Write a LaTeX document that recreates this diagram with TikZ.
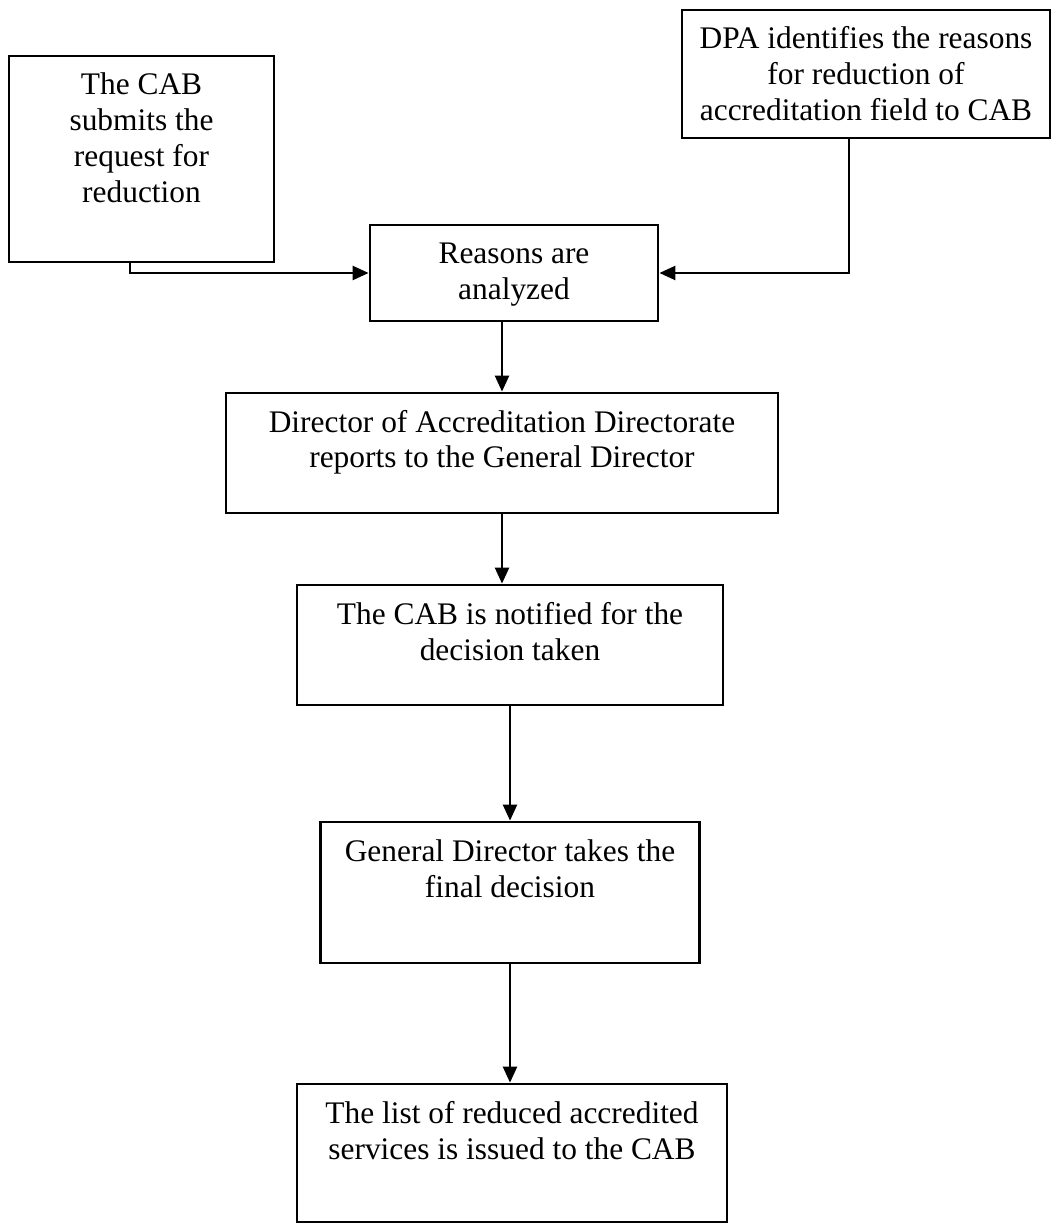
\documentclass[tikz,border=0pt]{standalone}
\usepackage{fontspec}
\setmainfont{Liberation Serif}
\usepackage{tikz}
\usetikzlibrary{arrows.meta}
\newcommand{\boxtext}[3]{\parbox[c][#2][t]{#1}{\centering\rule{0pt}{19.5pt}#3}}

\begin{document}
\begin{tikzpicture}[x=0.5pt, y=-0.5pt,
		box/.style={draw, line width=1.4pt, inner sep=0pt, font=\fontsize{15.7pt}{18pt}\selectfont},
		flow/.style={-{Triangle[length=8pt,width=7pt]}, line width=1.2pt}]
		\useasboundingbox (0,0) rectangle (1053,1224);
		\node[box] (cab) at (141.5,159) {\boxtext{132.5pt}{103pt}{The CAB\\ submits the\\ request for\\ reduction}};
		\node[box] (dpa) at (866,74) {\boxtext{184pt}{64pt}{DPA identifies the reasons\\ for reduction of\\ accreditation field to CAB}};
		\node[box] (reasons) at (514,273) {\boxtext{144pt}{48pt}{Reasons are\\ analyzed}};
		\node[box] (director) at (502,453) {\boxtext{276pt}{60pt}{Director of Accreditation Directorate\\ reports to the General Director}};
		\node[box] (notified) at (510,645) {\boxtext{213pt}{60pt}{The CAB is notified for the\\ decision taken}};
		\node[box] (general) at (510,892.5) {\boxtext{189.5pt}{70.5pt}{General Director takes the\\ final decision}};
		\node[box] (list) at (512,1153) {\boxtext{215pt}{69pt}{The list of reduced accredited\\ services is issued to the CAB}};
		\draw[flow] ([xshift=-5.75pt]cab.south) |- (reasons.west);
		\draw[flow] ([xshift=-8.5pt]dpa.south) |- (reasons.east);
		\draw[flow] (reasons.south -| director.north) -- (director.north);
		\draw[flow] (director.south) -- (director.south |- notified.north);
		\draw[flow] (notified.south) -- (notified.south |- general.north);
		\draw[flow] (general.south) -- (general.south |- list.north);
		\end{tikzpicture}
\end{document}
